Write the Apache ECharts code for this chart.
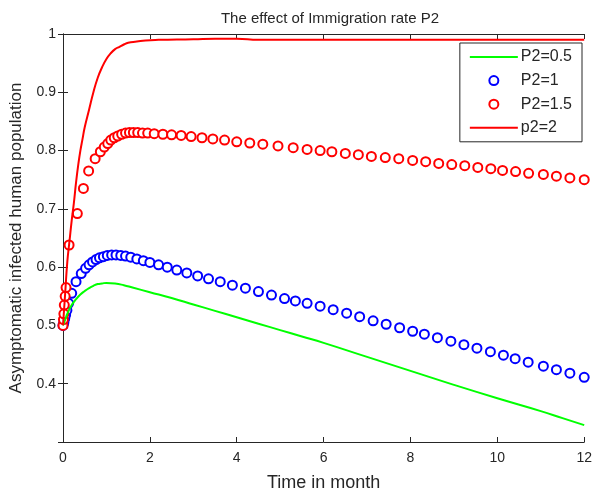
<!DOCTYPE html>
<html><head><meta charset="utf-8">
<script src="https://cdn.jsdelivr.net/npm/echarts@6/dist/echarts.min.js"></script>
<style>html,body{margin:0;padding:0;background:#fff}#c{width:595px;height:497px}</style>
</head><body><div id="c"></div>
<script>
// P2=0.5 (green line)
const greenT = [0,0.05,0.1,0.2,0.3,0.4,0.5,0.6,0.7,0.8,0.9,1.0,1.2,1.4,1.6,2.0,2.5,3,3.5,4,4.5,5,5.5,6,7,8,9,10,11,11.5,12];
const greenV = [0.5,0.51,0.52,0.535,0.545,0.553,0.559,0.564,0.568,0.571,0.572,0.573,0.572,0.569,0.565,0.557,0.547,0.536,0.525,0.514,0.503,0.492,0.481,0.470,0.446,0.422,0.398,0.375,0.353,0.341,0.329];
// P2=1 (blue circles)
const blueT = [0,0.02,0.04,0.06,0.09,0.13,0.2,0.3,0.42,0.52,0.6,0.68,0.76,0.84,0.93,1.02,1.12,1.22,1.33,1.44,1.56,1.7,1.85,2.0,2.2,2.4,2.62,2.85,3.1,3.35,3.62,3.9,4.2,4.5,4.8,5.1,5.35,5.62,5.92,6.22,6.53,6.83,7.14,7.44,7.75,8.05,8.32,8.62,8.93,9.23,9.53,9.84,10.14,10.41,10.71,11.06,11.36,11.67,12.0];
const blueV = [0.5,0.505,0.512,0.518,0.526,0.538,0.555,0.575,0.589,0.598,0.604,0.609,0.613,0.616,0.618,0.620,0.621,0.621,0.620,0.619,0.617,0.614,0.611,0.608,0.604,0.600,0.595,0.590,0.585,0.580,0.575,0.569,0.564,0.558,0.552,0.546,0.542,0.538,0.533,0.527,0.521,0.515,0.508,0.502,0.496,0.490,0.485,0.479,0.473,0.467,0.461,0.455,0.449,0.443,0.437,0.430,0.424,0.418,0.411];
// P2=1.5 (red circles)
const redT = [0,0.01,0.02,0.03,0.05,0.07,0.14,0.33,0.47,0.59,0.74,0.86,0.95,1.03,1.1,1.18,1.26,1.35,1.44,1.53,1.62,1.72,1.83,1.95,2.1,2.3,2.5,2.72,2.95,3.2,3.45,3.72,4.0,4.3,4.6,4.95,5.3,5.62,5.92,6.19,6.5,6.8,7.1,7.42,7.73,8.05,8.35,8.65,8.95,9.25,9.55,9.85,10.12,10.42,10.72,11.06,11.36,11.67,12.0];
const redV = [0.5,0.51,0.52,0.535,0.55,0.565,0.638,0.692,0.735,0.765,0.786,0.798,0.806,0.812,0.818,0.822,0.825,0.828,0.830,0.831,0.831,0.831,0.830,0.830,0.829,0.828,0.827,0.826,0.824,0.822,0.820,0.818,0.815,0.813,0.811,0.808,0.805,0.802,0.800,0.798,0.795,0.793,0.790,0.788,0.786,0.783,0.781,0.778,0.776,0.774,0.771,0.769,0.766,0.764,0.761,0.759,0.756,0.753,0.750];
// p2=2 (red line)
const red2T = [0,0.05,0.1,0.15,0.2,0.25,0.3,0.35,0.4,0.45,0.5,0.6,0.7,0.8,0.9,1.0,1.1,1.2,1.3,1.4,1.5,1.7,1.9,2.2,3,3.5,4,4.5,6,12];
const red2V = [0.5,0.555,0.61,0.645,0.68,0.71,0.745,0.775,0.8,0.82,0.84,0.87,0.9,0.925,0.943,0.957,0.967,0.974,0.978,0.982,0.985,0.987,0.989,0.990,0.991,0.992,0.992,0.990,0.990,0.990];

const xTicks = [0,2,4,6,8,10,12];
const yTicks = [0.4,0.5,0.6,0.7,0.8,0.9,1];

const zip = (a,b)=>a.map((t,i)=>[t,b[i]]);
const FONT = 'Liberation Sans, Arial, sans-serif';
const TXT = '#262626';
const BAR = 'path://M0,0H48V2H0Z';

const chart = echarts.init(document.getElementById('c'));
const axisLine = {show:true, lineStyle:{color:TXT, width:1}};
chart.setOption({
  backgroundColor:'#fff',
  animation:false,
  title:{text:'The effect of Immigration rate P2', left:325, top:6, textAlign:'center',
    textStyle:{fontFamily:FONT, fontSize:15, fontWeight:'normal', color:TXT}},
  grid:{left:62, right:7, top:34, bottom:48},
  legend:{right:13, top:43, orient:'vertical', backgroundColor:'#fff', borderColor:TXT, borderWidth:1,
    padding:[6,10,6,10], itemWidth:48, itemHeight:9, itemGap:7.6,
    textStyle:{fontFamily:FONT, fontSize:16, color:TXT, padding:[0,0,0,-2]},
    data:[{name:'P2=0.5', icon:BAR},
          {name:'P2=1', itemStyle:{borderWidth:2.2}},
          {name:'P2=1.5', itemStyle:{borderWidth:2.2}},
          {name:'p2=2', icon:BAR}]},
  xAxis:[{type:'value', min:0, max:12, interval:2, position:'bottom',
    axisLine, axisTick:{inside:true, length:5, lineStyle:{color:TXT}},
    axisLabel:{fontFamily:FONT, fontSize:14, color:TXT, margin:9, formatter:v=>xTicks.includes(v)?String(v):''},
    splitLine:{show:false},
    name:'Time in month', nameLocation:'middle', nameGap:32,
    nameTextStyle:{fontFamily:FONT, fontSize:18, color:TXT}},
   {type:'value', min:0, max:12, interval:2, position:'top',
    axisLine, axisTick:{inside:true, length:5, lineStyle:{color:TXT}}, axisLabel:{show:false}, splitLine:{show:false}}],
  yAxis:[{type:'value', min:0.3, max:1, interval:0.1, position:'left',
    axisLine, axisTick:{inside:true, length:5, lineStyle:{color:TXT}},
    axisLabel:{fontFamily:FONT, fontSize:14, color:TXT, margin:7,
      formatter:v=>{const r=Math.round(v*10)/10; return yTicks.includes(r)?String(r):'';}},
    splitLine:{show:false},
    name:'Asymptomatic infected human population', nameLocation:'middle', nameGap:38,
    nameTextStyle:{fontFamily:FONT, fontSize:17, color:TXT}},
   {type:'value', min:0.3, max:1, interval:0.1, position:'right',
    axisLine, axisTick:{inside:true, length:5, lineStyle:{color:TXT}}, axisLabel:{show:false}, splitLine:{show:false}}],
  series:[
    {name:'P2=0.5', type:'line', data:zip(greenT,greenV), symbol:'none', smooth:true,
      lineStyle:{color:'#00ff00', width:2}, itemStyle:{color:'#00ff00'}},
    {name:'P2=1', type:'scatter', data:zip(blueT,blueV), symbol:'emptyCircle', symbolSize:9,
      itemStyle:{color:'#0000ff', borderWidth:2.2, opacity:1}},
    {name:'P2=1.5', type:'scatter', data:zip(redT,redV), symbol:'emptyCircle', symbolSize:9,
      itemStyle:{color:'#ff0000', borderWidth:2.2, opacity:1}},
    {name:'p2=2', type:'line', data:zip(red2T,red2V), symbol:'none', smooth:true,
      lineStyle:{color:'#ff0000', width:2}, itemStyle:{color:'#ff0000'}}
  ]
});
</script></body></html>
